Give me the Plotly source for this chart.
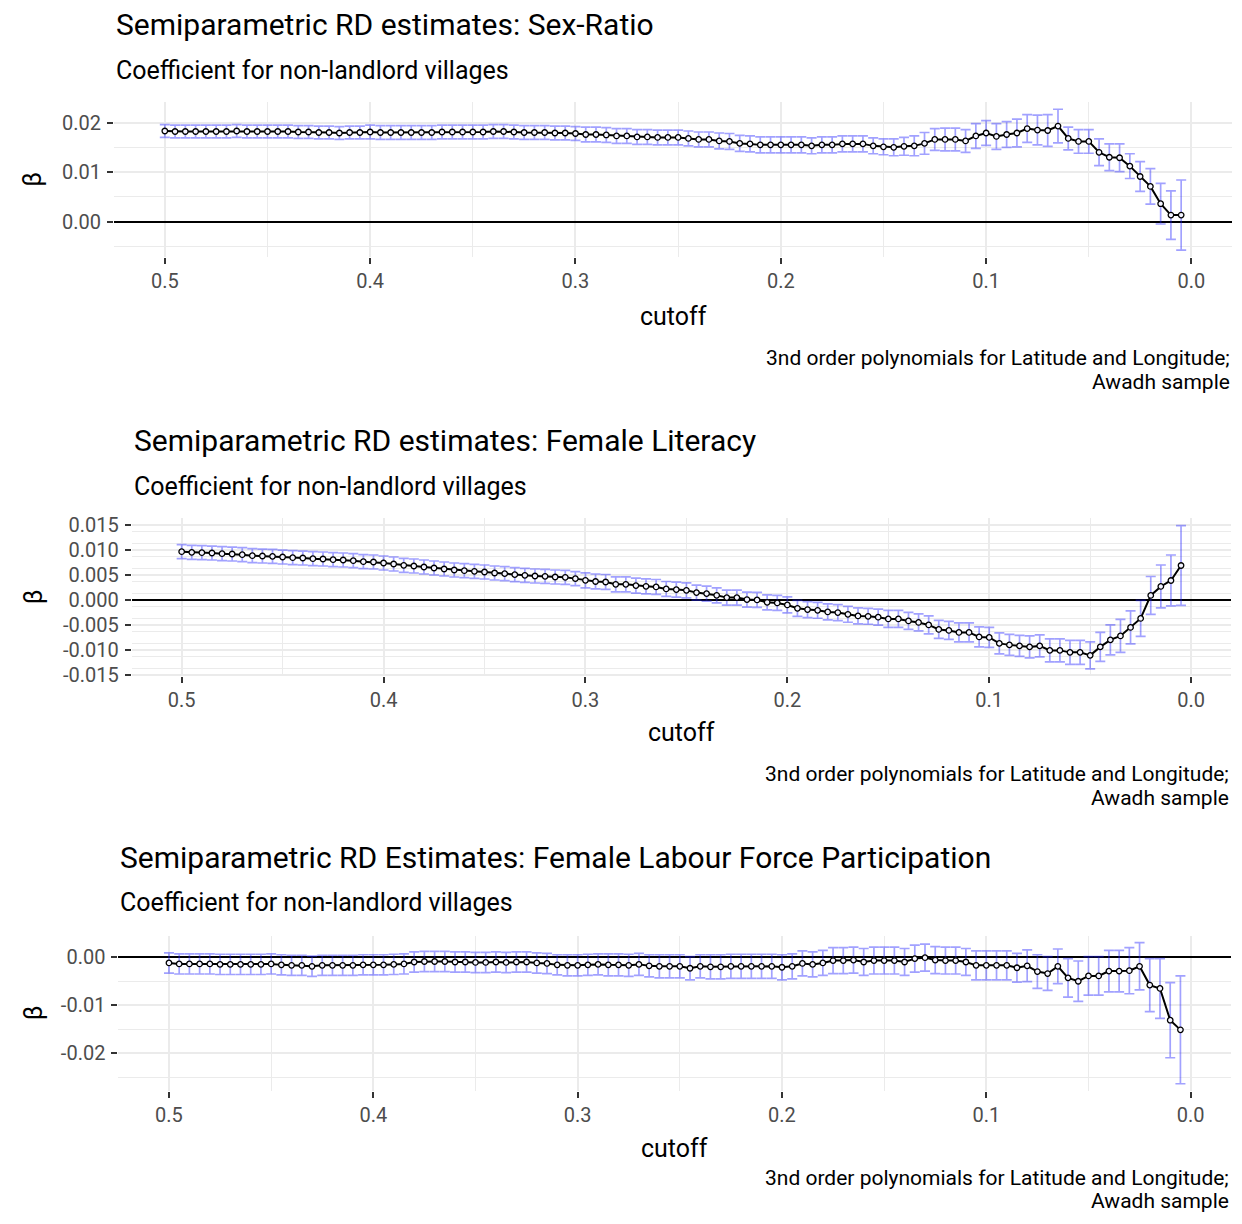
import plotly.graph_objects as go

# Bandwidth cutoffs (same grid for all three outcomes)
cutoff = [0.500, 0.495, 0.490, 0.485, 0.480, 0.475, 0.470, 0.465, 0.460, 0.455,
          0.450, 0.445, 0.440, 0.435, 0.430, 0.425, 0.420, 0.415, 0.410, 0.405,
          0.400, 0.395, 0.390, 0.385, 0.380, 0.375, 0.370, 0.365, 0.360, 0.355,
          0.350, 0.345, 0.340, 0.335, 0.330, 0.325, 0.320, 0.315, 0.310, 0.305,
          0.300, 0.295, 0.290, 0.285, 0.280, 0.275, 0.270, 0.265, 0.260, 0.255,
          0.250, 0.245, 0.240, 0.235, 0.230, 0.225, 0.220, 0.215, 0.210, 0.205,
          0.200, 0.195, 0.190, 0.185, 0.180, 0.175, 0.170, 0.165, 0.160, 0.155,
          0.150, 0.145, 0.140, 0.135, 0.130, 0.125, 0.120, 0.115, 0.110, 0.105,
          0.100, 0.095, 0.090, 0.085, 0.080, 0.075, 0.070, 0.065, 0.060, 0.055,
          0.050, 0.045, 0.040, 0.035, 0.030, 0.025, 0.020, 0.015, 0.010, 0.005]

# Sex-ratio: coefficient and 95% CI half-width
sex_beta = [0.0183, 0.0182, 0.0182, 0.0182, 0.0182, 0.0182, 0.0182, 0.0183, 0.0182, 0.0182,
            0.0182, 0.0182, 0.0182, 0.0181, 0.0181, 0.0180, 0.0180, 0.0179, 0.0180, 0.0180,
            0.0181, 0.0180, 0.0180, 0.0180, 0.0180, 0.0180, 0.0180, 0.0181, 0.0181, 0.0181,
            0.0181, 0.0181, 0.0182, 0.0182, 0.0181, 0.0180, 0.0180, 0.0180, 0.0179, 0.0179,
            0.0178, 0.0176, 0.0176, 0.0175, 0.0173, 0.0173, 0.0171, 0.0171, 0.0170, 0.0170,
            0.0170, 0.0168, 0.0166, 0.0166, 0.0163, 0.0162, 0.0158, 0.0157, 0.0155, 0.0155,
            0.0155, 0.0155, 0.0155, 0.0153, 0.0155, 0.0155, 0.0157, 0.0157, 0.0157, 0.0153,
            0.0151, 0.0150, 0.0152, 0.0153, 0.0158, 0.0166, 0.0166, 0.0166, 0.0163, 0.0173,
            0.0179, 0.0172, 0.0176, 0.0179, 0.0188, 0.0185, 0.0184, 0.0193, 0.0168, 0.0162,
            0.0162, 0.0140, 0.0130, 0.0129, 0.0112, 0.0091, 0.0071, 0.0036, 0.0013, 0.0013]
sex_ci = [0.0013, 0.0013, 0.0013, 0.0013, 0.0013, 0.0013, 0.0013, 0.0013, 0.0013, 0.0013,
          0.0013, 0.0013, 0.0013, 0.0013, 0.0013, 0.0013, 0.0013, 0.0013, 0.0013, 0.0013,
          0.0014, 0.0014, 0.0014, 0.0014, 0.0014, 0.0014, 0.0014, 0.0014, 0.0014, 0.0014,
          0.0014, 0.0014, 0.0014, 0.0014, 0.0014, 0.0014, 0.0014, 0.0014, 0.0014, 0.0014,
          0.0014, 0.0015, 0.0015, 0.0015, 0.0015, 0.0015, 0.0015, 0.0015, 0.0015, 0.0015,
          0.0015, 0.0015, 0.0015, 0.0015, 0.0016, 0.0016, 0.0016, 0.0016, 0.0016, 0.0016,
          0.0016, 0.0016, 0.0016, 0.0016, 0.0016, 0.0016, 0.0016, 0.0016, 0.0016, 0.0016,
          0.0016, 0.0017, 0.0018, 0.0020, 0.0022, 0.0022, 0.0023, 0.0023, 0.0023, 0.0025,
          0.0025, 0.0026, 0.0026, 0.0028, 0.0028, 0.0030, 0.0032, 0.0034, 0.0023, 0.0024,
          0.0024, 0.0027, 0.0027, 0.0028, 0.0025, 0.0030, 0.0036, 0.0041, 0.0049, 0.0071]

# Female literacy
lit_beta = [0.00967, 0.00953, 0.00947, 0.00940, 0.00927, 0.00920, 0.00907, 0.00887, 0.00880, 0.00873,
            0.00860, 0.00847, 0.00840, 0.00827, 0.00820, 0.00807, 0.00800, 0.00787, 0.00767, 0.00760,
            0.00740, 0.00720, 0.00693, 0.00680, 0.00660, 0.00640, 0.00620, 0.00600, 0.00587, 0.00573,
            0.00560, 0.00540, 0.00527, 0.00507, 0.00493, 0.00480, 0.00473, 0.00460, 0.00453, 0.00427,
            0.00393, 0.00370, 0.00360, 0.00313, 0.00313, 0.00287, 0.00273, 0.00260, 0.00220, 0.00207,
            0.00193, 0.00147, 0.00127, 0.00093, 0.00047, 0.00047, 0.00007, 0.00000, -0.00047, -0.00060,
            -0.00100, -0.00167, -0.00193, -0.00207, -0.00240, -0.00253, -0.00287, -0.00320, -0.00327, -0.00345,
            -0.00380, -0.00380, -0.00420, -0.00450, -0.00500, -0.00590, -0.00610, -0.00650, -0.00650, -0.00740,
            -0.00750, -0.00870, -0.00900, -0.00920, -0.00940, -0.00920, -0.01010, -0.01010, -0.01050, -0.01050,
            -0.01110, -0.00940, -0.00800, -0.00720, -0.00550, -0.00370, 0.00090, 0.00270, 0.00390, 0.00690]
lit_ci = [0.0014, 0.0014, 0.0014, 0.0014, 0.0014, 0.0014, 0.0014, 0.0014, 0.0014, 0.0014,
          0.0014, 0.0014, 0.0014, 0.0014, 0.0014, 0.0014, 0.0014, 0.0014, 0.0014, 0.0014,
          0.0014, 0.0014, 0.0014, 0.0014, 0.0014, 0.0014, 0.0014, 0.0014, 0.0014, 0.0014,
          0.0014, 0.0014, 0.0014, 0.0014, 0.0014, 0.0014, 0.0014, 0.0014, 0.0014, 0.0014,
          0.0015, 0.0015, 0.0015, 0.0015, 0.0015, 0.0015, 0.0015, 0.0015, 0.0015, 0.0015,
          0.0015, 0.0015, 0.0015, 0.0015, 0.0015, 0.0015, 0.0015, 0.0015, 0.0015, 0.0015,
          0.0016, 0.0016, 0.0016, 0.0016, 0.0016, 0.0016, 0.0016, 0.0016, 0.0016, 0.0016,
          0.0017, 0.0017, 0.0017, 0.0017, 0.0018, 0.0018, 0.0018, 0.0019, 0.0019, 0.0020,
          0.0020, 0.0021, 0.0021, 0.0021, 0.0022, 0.0022, 0.0023, 0.0023, 0.0024, 0.0024,
          0.0027, 0.0029, 0.0030, 0.0033, 0.0033, 0.0036, 0.0038, 0.0043, 0.0051, 0.0080]

# Female labour force participation
lfp_beta = [-0.0012, -0.0014, -0.0014, -0.0014, -0.0014, -0.0015, -0.0015, -0.0015, -0.0015, -0.0015,
            -0.0014, -0.0016, -0.0017, -0.0017, -0.0019, -0.0017, -0.0017, -0.0017, -0.0017, -0.0016,
            -0.0016, -0.0016, -0.0015, -0.0014, -0.0010, -0.0009, -0.0009, -0.0009, -0.0010, -0.0010,
            -0.0011, -0.0011, -0.0010, -0.0011, -0.0010, -0.0010, -0.0012, -0.0013, -0.0016, -0.0017,
            -0.0017, -0.0016, -0.0015, -0.0016, -0.0016, -0.0017, -0.0015, -0.0018, -0.0019, -0.0019,
            -0.0019, -0.0023, -0.0019, -0.0020, -0.0020, -0.0019, -0.0019, -0.0019, -0.0019, -0.0019,
            -0.0021, -0.0019, -0.0013, -0.0015, -0.0012, -0.0007, -0.0007, -0.0006, -0.0010, -0.0007,
            -0.0007, -0.0007, -0.0010, -0.0003, -0.0001, -0.0006, -0.0007, -0.0007, -0.0010, -0.0017,
            -0.0017, -0.0017, -0.0017, -0.0022, -0.0018, -0.0030, -0.0034, -0.0019, -0.0043, -0.0050,
            -0.0039, -0.0039, -0.0029, -0.0029, -0.0028, -0.0019, -0.0058, -0.0065, -0.0131, -0.0151]
lfp_ci = [0.0021, 0.0021, 0.0021, 0.0021, 0.0021, 0.0021, 0.0021, 0.0021, 0.0021, 0.0021,
          0.0021, 0.0021, 0.0021, 0.0021, 0.0021, 0.0021, 0.0021, 0.0021, 0.0021, 0.0021,
          0.0021, 0.0021, 0.0021, 0.0021, 0.0021, 0.0021, 0.0021, 0.0021, 0.0021, 0.0021,
          0.0021, 0.0021, 0.0021, 0.0021, 0.0021, 0.0021, 0.0021, 0.0021, 0.0021, 0.0022,
          0.0022, 0.0022, 0.0022, 0.0023, 0.0023, 0.0023, 0.0023, 0.0023, 0.0024, 0.0024,
          0.0024, 0.0024, 0.0024, 0.0025, 0.0025, 0.0025, 0.0025, 0.0025, 0.0025, 0.0025,
          0.0026, 0.0026, 0.0026, 0.0026, 0.0026, 0.0027, 0.0027, 0.0027, 0.0028, 0.0028,
          0.0028, 0.0028, 0.0028, 0.0028, 0.0028, 0.0028, 0.0028, 0.0028, 0.0028, 0.0030,
          0.0030, 0.0030, 0.0030, 0.0030, 0.0033, 0.0035, 0.0035, 0.0036, 0.0040, 0.0042,
          0.0040, 0.0040, 0.0043, 0.0043, 0.0048, 0.0049, 0.0055, 0.0062, 0.0078, 0.0112]

titles = ["Semiparametric RD estimates: Sex-Ratio",
          "Semiparametric RD estimates: Female Literacy",
          "Semiparametric RD Estimates: Female Labour Force Participation"]
subtitle = "Coefficient for non-landlord villages"
caption_lines = ["3nd order polynomials for Latitude and Longitude;", "Awadh sample"]
x_title = "cutoff"
y_title = "\u03b2"

x_ticks = [0.5, 0.4, 0.3, 0.2, 0.1, 0.0]
x_ticklabels = ["0.5", "0.4", "0.3", "0.2", "0.1", "0.0"]
y_ticks = [[0.0, 0.01, 0.02],
           [-0.015, -0.010, -0.005, 0.0, 0.005, 0.010, 0.015],
           [-0.02, -0.01, 0.0]]
y_ticklabels = [["0.00", "0.01", "0.02"],
                ["-0.015", "-0.010", "-0.005", "0.000", "0.005", "0.010", "0.015"],
                ["-0.02", "-0.01", "0.00"]]
y_minor = [0.005, 0.0025, 0.005]

series = [(sex_beta, sex_ci), (lit_beta, lit_ci), (lfp_beta, lfp_ci)]

# Page geometry (pixels, measured from the top-left of the figure)
W, H = 1242, 1224
panels = [
    dict(left=114, right=1232, top=98.5, bottom=255.6, title_y=19.7, sub_y=66.3, xlab_y=315.8,
         cap_y=(357.4, 381.7)),
    dict(left=131.7, right=1231, top=520.2, bottom=679.9, title_y=441.6, sub_y=488.3, xlab_y=736.7,
         cap_y=(779.3, 803.7)),
    dict(left=118.4, right=1231, top=943.0, bottom=1100.2, title_y=863.5, sub_y=909.1, xlab_y=1158.6,
         cap_y=(1188.5, 1211.5)),
]

FONT = "Roboto"
GRID = "#EBEBEB"
TICKCOL = "#333333"
LABCOL = "#4D4D4D"


def px(x):
    return x / W


def py(y):
    return 1 - y / H


fig = go.Figure()
annotations = []

xspan = max(cutoff) - min(cutoff)
xrange = [max(cutoff) + 0.05 * xspan, min(cutoff) - 0.05 * xspan]

for i, (p, (beta, ci)) in enumerate(zip(panels, series)):
    n = "" if i == 0 else str(i + 1)
    xa, ya = "x" + n, "y" + n

    lo = min(b - c for b, c in zip(beta, ci))
    hi = max(b + c for b, c in zip(beta, ci))
    pad = 0.05 * (hi - lo)

    # confidence intervals
    fig.add_trace(go.Scatter(
        x=cutoff, y=beta, xaxis=xa, yaxis=ya, mode="markers",
        marker=dict(size=1, opacity=0),
        error_y=dict(type="data", array=ci, visible=True,
                     color="rgba(30,30,255,0.42)", thickness=1.7, width=5),
        showlegend=False, hoverinfo="skip"))
    # point estimates
    fig.add_trace(go.Scatter(
        x=cutoff, y=beta, xaxis=xa, yaxis=ya, mode="lines+markers",
        line=dict(color="black", width=2),
        marker=dict(size=5.5, color="#F4F4FF", line=dict(color="black", width=1.3)),
        showlegend=False))

    axis_common = dict(showline=False, ticks="outside", ticklen=6,
                       tickwidth=2, tickcolor=TICKCOL,
                       tickfont=dict(family=FONT, size=20, color=LABCOL),
                       showgrid=True, gridcolor=GRID, gridwidth=1.8)
    fig.update_layout(**{
        ("xaxis" + n): dict(
            domain=[px(p["left"]), px(p["right"])], anchor=ya, zeroline=False,
            range=xrange, tickmode="array", tickvals=x_ticks, ticktext=x_ticklabels,
            minor=dict(dtick=0.05, tick0=0, showgrid=True, gridcolor=GRID, gridwidth=0.9, ticks=""),
            ticklabelstandoff=0, **axis_common),
        # the zero line marks beta = 0
        ("yaxis" + n): dict(
            domain=[py(p["bottom"]), py(p["top"])], anchor=xa,
            zeroline=True, zerolinecolor="black", zerolinewidth=2.2,
            range=[lo - pad, hi + pad], tickmode="array",
            tickvals=y_ticks[i], ticktext=y_ticklabels[i],
            minor=dict(dtick=y_minor[i], tick0=y_minor[i] / 2 if i == 1 else 0.005,
                       showgrid=True, gridcolor=GRID, gridwidth=0.9, ticks=""),
            ticklabelstandoff=2, **axis_common),
    })

    annotations += [
        dict(text=titles[i], x=px(p["left"]), y=py(p["title_y"]), xref="paper", yref="paper",
             xanchor="left", yanchor="middle", showarrow=False,
             font=dict(family=FONT, size=30, color="black")),
        dict(text=subtitle, x=px(p["left"]), y=py(p["sub_y"]), xref="paper", yref="paper",
             xanchor="left", yanchor="middle", showarrow=False,
             font=dict(family=FONT, size=25, color="black")),
        dict(text=x_title, x=px((p["left"] + p["right"]) / 2), y=py(p["xlab_y"]),
             xref="paper", yref="paper", xanchor="center", yanchor="middle", showarrow=False,
             font=dict(family=FONT, size=25, color="black")),
        dict(text=y_title, x=px(33), y=py((p["top"] + p["bottom"]) / 2),
             xref="paper", yref="paper", xanchor="center", yanchor="middle", showarrow=False,
             textangle=-90, font=dict(family=FONT, size=25, color="black")),
    ]
    for line, cy in zip(caption_lines, p["cap_y"]):
        annotations.append(dict(
            text=line, x=px(p["right"]), y=py(cy), xref="paper", yref="paper",
            xanchor="right", yanchor="middle", showarrow=False,
            font=dict(family=FONT, size=21, color="black")))

fig.update_layout(
    width=W, height=H, margin=dict(l=0, r=0, t=0, b=0),
    paper_bgcolor="white", plot_bgcolor="white",
    annotations=annotations,
)

fig.write_html("out.html", config={"displayModeBar": False, "responsive": False})
